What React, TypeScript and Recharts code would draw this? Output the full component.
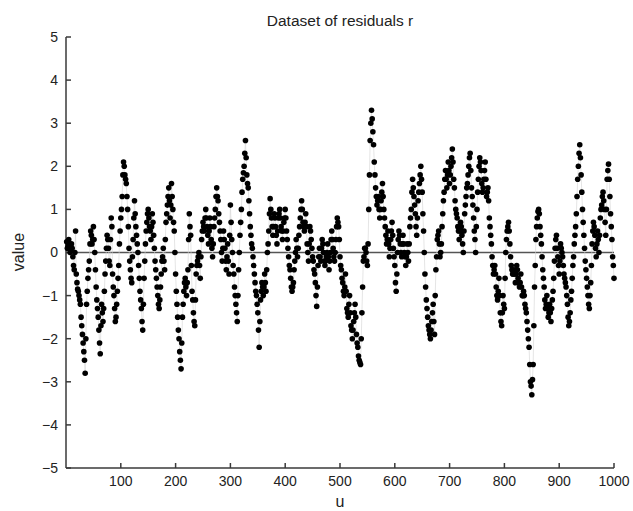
import { ScatterChart, Scatter, XAxis, YAxis, ReferenceLine } from 'recharts'

// residuals r, one block of 100 in u at a time.
// R_x: values at u = x+2.5, x+5 ... x+100; M_x: values at u = x+1.25, x+3.75 ... x+98.75
const R_0 = [0.1, 0.3, 0.0, 0.2, -0.1, -0.4, 0.5, -0.7, -0.9, -1.1, -1.5, -1.9, -2.3, -2.8, -1.2, -0.6, -0.2, 0.5, 0.2, 0.6, 0.0, -0.8, -1.3, -1.8, -2.35, -1.2, -1.6, -0.9, -0.2, 0.4, 0.1, -0.3, 0.8, -0.5, -1.0, -1.6, -1.2, -0.6, 0.2, 0.8]
const M_0 = [0.25, 0.15, 0.2, 0.05, 0.1, -0.3, 0.0, -0.5, -0.85, -1.0, -1.2, -1.7, -2.1, -2.5, -2.0, -0.9, -0.4, 0.2, 0.4, 0.3, 0.3, -0.4, -1.1, -1.5, -2.1, -1.7, -1.4, -1.3, -0.5, 0.1, 0.3, -0.2, 0.3, 0.6, -0.8, -1.3, -1.5, -0.9, -0.3, 0.5]
const R_100 = [1.3, 2.1, 1.8, 1.6, 1.0, 0.1, -0.4, -0.7, 0.3, 1.2, 0.6, 0.2, -0.3, -0.9, -1.3, -1.8, -0.6, 0.2, 0.7, 1.0, 0.6, 0.3, 0.9, 0.4, -0.2, -0.6, -1.0, -1.3, -0.8, -0.2, 0.1, -0.4, 0.7, 1.1, 1.5, 0.8, 1.6, 1.0, 0.5, -0.5]
const M_100 = [1.0, 1.8, 2.0, 1.7, 1.3, 0.6, -0.2, -0.6, -0.1, 0.8, 0.9, 0.4, 0.0, -0.6, -1.1, -1.6, -1.2, -0.2, 0.5, 0.9, 0.8, 0.5, 0.6, 0.7, 0.1, -0.4, -0.8, -1.2, -1.1, -0.5, -0.1, -0.2, 0.3, 0.9, 1.3, 1.2, 1.1, 1.3, 0.7, 0.0]
const R_200 = [-1.2, -1.8, -2.3, -2.7, -1.5, -0.9, -0.6, -1.0, -0.4, 0.9, 0.4, -0.9, -1.4, -1.7, -0.5, -0.2, 0.0, -0.6, 0.3, 0.7, 0.5, 1.0, 0.6, 0.2, 0.8, 0.3, -0.1, 0.6, 1.0, 1.5, 1.2, 0.7, 0.3, -0.2, 0.5, 0.1, -0.4, 0.2, -0.5, 1.1]
const M_200 = [-0.9, -1.5, -2.0, -2.5, -2.1, -1.2, -0.7, -0.8, -0.7, 0.3, 0.6, -0.3, -1.1, -1.6, -1.1, -0.3, -0.1, -0.3, -0.1, 0.5, 0.6, 0.8, 0.8, 0.4, 0.5, 0.6, 0.1, 0.2, 0.8, 1.3, 1.3, 0.9, 0.5, 0.0, 0.1, 0.3, -0.2, -0.1, -0.2, 0.4]
const R_300 = [0.3, -0.3, -0.8, -1.2, -1.6, -0.4, 0.4, 1.0, 1.7, 2.0, 2.6, 1.8, 1.5, 0.9, 0.4, 0.1, -0.3, -0.7, -1.0, -1.4, -2.2, -1.1, -0.7, -1.0, -0.5, -0.9, 0.0, 0.5, 1.25, 0.8, 0.4, 0.9, 0.6, 0.2, 0.8, 1.0, 0.6, 0.3, 0.7, 1.0]
const M_300 = [0.7, 0.0, -0.5, -1.0, -1.4, -1.0, 0.0, 0.7, 1.4, 1.85, 2.3, 2.2, 1.6, 1.2, 0.6, 0.2, -0.1, -0.5, -0.9, -1.2, -1.8, -1.6, -0.9, -0.8, -0.8, -0.7, -0.4, 0.2, 0.9, 1.0, 0.6, 0.6, 0.8, 0.4, 0.5, 0.9, 0.8, 0.5, 0.5, 0.8]
const R_400 = [0.5, 0.1, -0.3, -0.6, -0.9, -0.7, -0.2, 0.3, -0.1, 0.4, 0.8, 1.2, 0.7, 0.5, 0.9, 0.2, -0.2, 0.6, 0.3, -0.1, -0.4, -0.7, -1.25, -0.3, 0.1, -0.2, 0.3, 0.0, -0.3, -0.1, 0.2, -0.4, 0.0, 0.5, 0.1, -0.2, 0.3, 0.8, 0.6, -0.1]
const M_400 = [0.8, 0.3, -0.1, -0.4, -0.8, -0.8, -0.4, 0.0, 0.1, 0.1, 0.6, 1.0, 1.0, 0.6, 0.7, 0.6, 0.0, 0.2, 0.5, 0.1, -0.2, -0.5, -1.0, -0.8, -0.1, -0.1, 0.1, 0.2, -0.2, -0.2, 0.0, -0.1, -0.2, 0.3, 0.3, -0.1, 0.0, 0.6, 0.7, 0.3]
const R_500 = [-0.4, -0.7, -1.0, -0.5, -1.3, -1.5, -1.0, -1.7, -2.0, -1.6, -1.2, -1.9, -2.2, -2.5, -2.6, -1.4, -0.2, 0.1, 0.0, -0.3, 1.0, 2.6, 3.3, 2.8, 2.1, 1.5, 1.1, 1.3, 0.8, 1.2, 1.6, 1.0, 0.6, 0.2, 0.5, -0.1, 0.3, 0.7, 0.1, -0.3]
const M_500 = [-0.3, -0.6, -0.9, -0.8, -0.9, -1.4, -1.2, -1.4, -1.8, -1.8, -1.4, -1.5, -2.1, -2.4, -2.55, -2.0, -0.8, -0.1, 0.1, -0.2, 0.2, 1.8, 3.0, 3.1, 2.5, 1.8, 1.3, 1.2, 1.0, 1.0, 1.4, 1.3, 0.8, 0.4, 0.3, 0.2, 0.1, 0.5, 0.4, -0.1]
const R_600 = [-0.9, 0.0, 0.5, 0.2, -0.1, 0.4, 0.0, -0.3, 0.2, -0.2, 0.6, 1.0, 1.7, 1.3, 0.9, 0.4, 1.2, 1.6, 2.0, 1.4, 0.5, -0.5, -1.1, -1.5, -1.8, -2.0, -1.6, -1.2, -1.9, -0.4, 0.3, 0.5, -0.1, 0.2, 0.9, 1.4, 1.9, 1.5, 2.1, 1.6]
const M_600 = [-0.7, -0.5, 0.3, 0.4, 0.0, 0.2, 0.2, -0.1, -0.1, 0.0, 0.2, 0.8, 1.4, 1.5, 1.1, 0.6, 0.8, 1.4, 1.8, 1.7, 0.9, 0.0, -0.8, -1.3, -1.7, -1.9, -1.8, -1.4, -1.6, -1.0, -0.1, 0.4, 0.2, 0.0, 0.6, 1.2, 1.7, 1.7, 1.8, 1.9]
const R_700 = [2.0, 2.4, 1.7, 1.2, 0.9, 0.6, 0.3, 0.7, 0.4, 0.0, 0.9, 1.3, 1.6, 2.0, 2.3, 1.5, 1.1, 0.5, 0.0, 1.0, 1.7, 2.2, 1.9, 1.4, 1.7, 2.1, 1.3, 1.5, 0.8, 0.4, -0.1, -0.5, -0.3, -0.8, -1.1, -0.6, -1.4, -1.7, -1.0, -1.3]
const M_700 = [1.8, 2.2, 2.1, 1.5, 1.0, 0.8, 0.5, 0.5, 0.6, 0.2, 0.5, 1.1, 1.5, 1.8, 2.2, 1.9, 1.3, 0.8, 0.3, 0.6, 1.4, 2.0, 2.1, 1.6, 1.5, 1.9, 1.7, 1.4, 1.2, 0.6, 0.2, -0.3, -0.4, -0.5, -1.0, -0.9, -1.0, -1.6, -1.4, -1.2]
const R_800 = [0.0, 0.5, 0.7, 0.2, -0.3, -0.5, -0.4, -0.7, -0.3, -0.6, -0.8, -0.5, -1.0, -0.9, -1.2, -1.4, -1.8, -2.2, -3.0, -3.3, -2.6, -0.8, 0.3, 0.8, 1.0, 0.6, 0.2, -0.4, -0.8, -1.3, -1.0, -1.5, -1.2, -1.6, -1.1, -0.6, 0.1, 0.4, -0.1, -0.5]
const M_800 = [-0.6, 0.3, 0.6, 0.5, -0.1, -0.4, -0.5, -0.5, -0.5, -0.4, -0.7, -0.7, -0.8, -1.0, -1.0, -1.3, -1.6, -2.0, -2.6, -3.1, -2.95, -1.7, -0.3, 0.6, 0.95, 0.9, 0.4, -0.1, -0.6, -1.1, -1.2, -1.3, -1.4, -1.4, -1.3, -0.9, -0.2, 0.3, 0.1, -0.3]
const R_900 = [0.2, 0.0, -0.3, -0.6, -0.8, -1.2, -1.7, -1.4, -0.9, -0.3, 0.2, 0.6, 1.3, 2.0, 2.5, 1.8, 1.0, 0.4, -0.2, -0.6, -1.0, -1.3, -0.7, 0.2, 0.7, 0.4, -0.1, 0.5, 0.0, 0.8, 1.1, 1.4, 1.0, 0.4, 1.7, 2.05, 1.3, 0.6, -0.1, -0.6]
const M_900 = [-0.2, 0.1, -0.1, -0.5, -0.7, -1.0, -1.5, -1.6, -1.1, -0.6, -0.1, 0.4, 0.9, 1.7, 2.3, 2.2, 1.4, 0.7, 0.1, -0.4, -0.8, -1.2, -1.0, -0.3, 0.5, 0.6, 0.1, 0.2, 0.3, 0.4, 1.0, 1.3, 1.2, 0.7, 1.0, 1.9, 1.7, 0.9, 0.3, -0.3]

const X_TICKS = [100, 200, 300, 400, 500, 600, 700, 800, 900, 1000]
const Y_TICKS = [-5, -4, -3, -2, -1, 0, 1, 2, 3, 4, 5]

const blocks = [
  [R_0, M_0], [R_100, M_100], [R_200, M_200], [R_300, M_300], [R_400, M_400],
  [R_500, M_500], [R_600, M_600], [R_700, M_700], [R_800, M_800], [R_900, M_900],
]
const data: { u: number; r: number }[] = []
blocks.forEach(([R, M], b) => {
  R.forEach((r, i) => {
    data.push({ u: b * 100 + i * 2.5 + 1.25, r: M[i] })
    data.push({ u: b * 100 + (i + 1) * 2.5, r })
  })
})

const FONT = '"Liberation Sans", Arial, sans-serif'
const AXIS = '#3a3a3a'

const Dot = (props: any) => <circle cx={props.cx} cy={props.cy} r={2.8} fill="#000" />

export default function App() {
  return (
    <div style={{ position: 'absolute', left: 0, top: 0, width: 633, height: 511, background: '#fff', fontFamily: FONT }}>
      <div style={{ position: 'absolute', left: 66, width: 548, top: 12, textAlign: 'center', fontSize: 15.5, color: '#222' }}>Dataset of residuals r</div>
      <div style={{ position: 'absolute', left: 0, top: 242, transform: 'rotate(-90deg)', transformOrigin: '20px 10px', width: 40, textAlign: 'center', fontSize: 16, color: '#222' }}>value</div>
      <div style={{ position: 'absolute', left: 66, width: 548, top: 493, textAlign: 'center', fontSize: 16, color: '#222' }}>u</div>
      <ScatterChart width={633} height={511} margin={{ top: 37, right: 19, bottom: 0, left: 0 }}>
        <XAxis type="number" dataKey="u" domain={[0, 1000]} ticks={X_TICKS} height={43}
          stroke={AXIS} strokeWidth={1.5} tickSize={-5} tickMargin={13}
          tick={{ fill: '#222', fontSize: 14, fontFamily: FONT }} />
        <YAxis type="number" dataKey="r" domain={[-5, 5]} ticks={Y_TICKS} width={66}
          stroke={AXIS} strokeWidth={1.5} tickSize={-5} tickMargin={13}
          tickFormatter={(v: number) => String(v).replace('-', '\u2212')}
          tick={{ fill: '#222', fontSize: 14, fontFamily: FONT }} />
        <ReferenceLine y={0} stroke="#555" strokeWidth={1.5} />
        <Scatter data={data} isAnimationActive={false} line={{ stroke: '#d4d4d4', strokeWidth: 0.6 }} shape={Dot} />
      </ScatterChart>
    </div>
  )
}
